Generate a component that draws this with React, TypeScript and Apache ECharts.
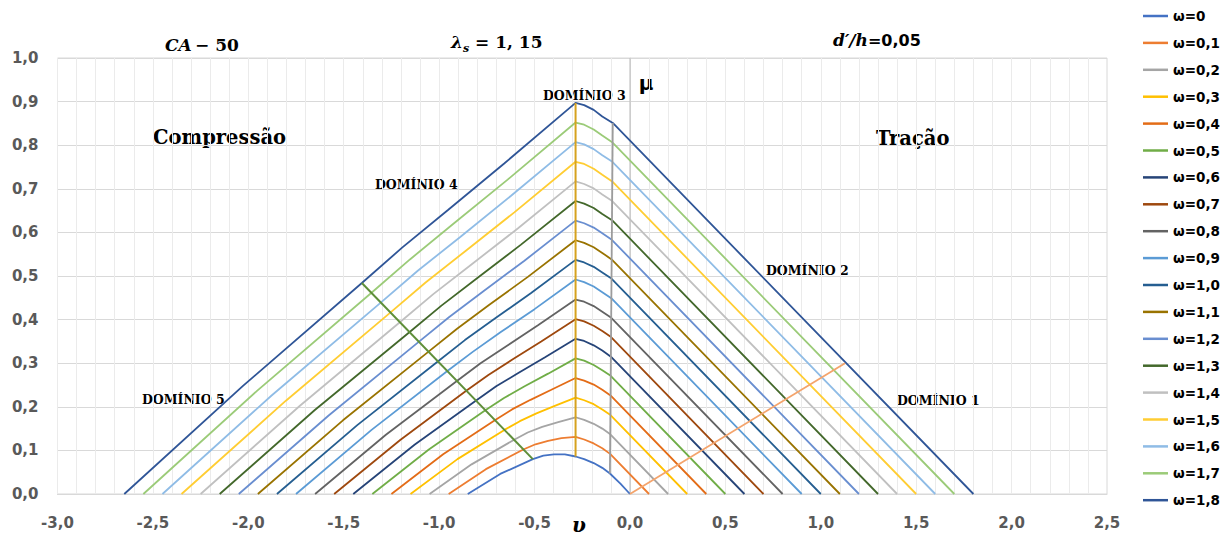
import React, { useEffect, useRef } from "react";
import * as echarts from "echarts";

type Pt = [number, number];

// ---- legend labels & colours ----
const omegaLabels = [
  "ω=0", "ω=0,1", "ω=0,2", "ω=0,3", "ω=0,4", "ω=0,5", "ω=0,6", "ω=0,7", "ω=0,8", "ω=0,9",
  "ω=1,0", "ω=1,1", "ω=1,2", "ω=1,3", "ω=1,4", "ω=1,5", "ω=1,6", "ω=1,7", "ω=1,8",
];
const omegaColors = [
  "#4472C4", "#ED7D31", "#A5A5A5", "#FFC000", "#E36C17", "#70AD47", "#264478", "#9E480E", "#636363", "#5B9BD5",
  "#255E91", "#997300", "#698ED0", "#43682B", "#C0C0C0", "#FFCD33", "#8FBCE6", "#9BCB78", "#2F5597",
];

// ---- curves (ν, μ) ----
const w00: Pt[] = [[-0.85, 0], [-0.68, 0.046], [-0.509, 0.08], [-0.454, 0.088], [-0.398, 0.091], [-0.341, 0.091], [-0.285, 0.086], [-0.24, 0.08], [-0.19, 0.071], [-0.145, 0.06], [-0.105, 0.047], [-0.05, 0.024], [0, 0]];
const w01: Pt[] = [[-0.95, 0], [-0.755, 0.057], [-0.559, 0.102], [-0.495, 0.114], [-0.429, 0.122], [-0.359, 0.128], [-0.285, 0.131], [-0.24, 0.125], [-0.19, 0.116], [-0.145, 0.105], [-0.104, 0.092], [0.1, 0]];
const w02: Pt[] = [[-1.05, 0], [-0.83, 0.068], [-0.609, 0.124], [-0.536, 0.141], [-0.46, 0.154], [-0.376, 0.165], [-0.285, 0.176], [-0.24, 0.17], [-0.19, 0.161], [-0.145, 0.15], [-0.103, 0.137], [0.2, 0]];
const w03: Pt[] = [[-1.15, 0], [-0.904, 0.08], [-0.658, 0.147], [-0.577, 0.167], [-0.49, 0.185], [-0.394, 0.202], [-0.285, 0.221], [-0.24, 0.215], [-0.19, 0.206], [-0.145, 0.194], [-0.102, 0.181], [0.3, 0]];
const w04: Pt[] = [[-1.25, 0], [-0.979, 0.091], [-0.708, 0.169], [-0.618, 0.194], [-0.521, 0.216], [-0.412, 0.239], [-0.285, 0.266], [-0.24, 0.26], [-0.19, 0.251], [-0.145, 0.239], [-0.102, 0.226], [0.4, 0]];
const w05: Pt[] = [[-1.35, 0], [-1.054, 0.102], [-0.758, 0.192], [-0.66, 0.22], [-0.552, 0.247], [-0.429, 0.276], [-0.285, 0.311], [-0.24, 0.306], [-0.19, 0.296], [-0.145, 0.284], [-0.101, 0.271], [0.5, 0]];
const w06: Pt[] = [[-1.45, 0], [-1.129, 0.113], [-0.808, 0.214], [-0.701, 0.247], [-0.583, 0.278], [-0.447, 0.313], [-0.285, 0.356], [-0.24, 0.351], [-0.19, 0.341], [-0.145, 0.329], [-0.1, 0.315], [0.6, 0]];
const w07: Pt[] = [[-1.55, 0], [-1.204, 0.124], [-0.858, 0.237], [-0.742, 0.273], [-0.614, 0.309], [-0.465, 0.35], [-0.285, 0.401], [-0.24, 0.396], [-0.19, 0.386], [-0.145, 0.374], [-0.099, 0.36], [0.7, 0]];
const w08: Pt[] = [[-1.65, 0], [-1.279, 0.136], [-0.907, 0.259], [-0.783, 0.3], [-0.644, 0.34], [-0.482, 0.387], [-0.285, 0.446], [-0.24, 0.441], [-0.19, 0.431], [-0.145, 0.418], [-0.098, 0.404], [0.8, 0]];
const w09: Pt[] = [[-1.75, 0], [-1.354, 0.147], [-0.957, 0.282], [-0.824, 0.326], [-0.675, 0.372], [-0.5, 0.424], [-0.285, 0.492], [-0.24, 0.486], [-0.19, 0.476], [-0.145, 0.463], [-0.098, 0.449], [0.9, 0]];
const w10: Pt[] = [[-1.85, 0], [-1.429, 0.158], [-1.007, 0.304], [-0.865, 0.353], [-0.706, 0.403], [-0.518, 0.461], [-0.285, 0.537], [-0.24, 0.531], [-0.19, 0.521], [-0.145, 0.508], [-0.097, 0.494], [1.0, 0]];
const w11: Pt[] = [[-1.95, 0], [-1.504, 0.169], [-1.057, 0.326], [-0.906, 0.379], [-0.737, 0.434], [-0.535, 0.498], [-0.285, 0.582], [-0.24, 0.576], [-0.19, 0.566], [-0.145, 0.553], [-0.096, 0.538], [1.1, 0]];
const w12: Pt[] = [[-2.05, 0], [-1.579, 0.18], [-1.107, 0.349], [-0.947, 0.406], [-0.768, 0.465], [-0.553, 0.535], [-0.285, 0.627], [-0.24, 0.621], [-0.19, 0.611], [-0.145, 0.598], [-0.095, 0.583], [1.2, 0]];
const w13: Pt[] = [[-2.15, 0], [-1.653, 0.192], [-1.156, 0.371], [-0.988, 0.432], [-0.798, 0.496], [-0.571, 0.572], [-0.285, 0.672], [-0.24, 0.666], [-0.19, 0.656], [-0.145, 0.642], [-0.094, 0.628], [1.3, 0]];
const w14: Pt[] = [[-2.25, 0], [-1.728, 0.203], [-1.206, 0.394], [-1.029, 0.459], [-0.829, 0.527], [-0.588, 0.609], [-0.285, 0.717], [-0.24, 0.711], [-0.19, 0.701], [-0.145, 0.687], [-0.093, 0.672], [1.4, 0]];
const w15: Pt[] = [[-2.35, 0], [-1.803, 0.214], [-1.256, 0.416], [-1.071, 0.485], [-0.86, 0.558], [-0.606, 0.646], [-0.285, 0.762], [-0.24, 0.757], [-0.19, 0.746], [-0.145, 0.732], [-0.093, 0.717], [1.5, 0]];
const w16: Pt[] = [[-2.45, 0], [-1.878, 0.226], [-1.306, 0.439], [-1.112, 0.512], [-0.891, 0.589], [-0.623, 0.684], [-0.285, 0.807], [-0.24, 0.802], [-0.19, 0.791], [-0.145, 0.777], [-0.092, 0.762], [1.6, 0]];
const w17: Pt[] = [[-2.55, 0], [-1.953, 0.237], [-1.356, 0.461], [-1.153, 0.538], [-0.922, 0.621], [-0.641, 0.721], [-0.285, 0.852], [-0.24, 0.847], [-0.19, 0.836], [-0.145, 0.822], [-0.091, 0.806], [1.7, 0]];
const w18: Pt[] = [[-2.65, 0], [-2.028, 0.248], [-1.405, 0.484], [-1.194, 0.565], [-0.952, 0.652], [-0.659, 0.758], [-0.285, 0.897], [-0.24, 0.892], [-0.19, 0.881], [-0.145, 0.866], [-0.09, 0.851], [1.8, 0]];
const curves: Pt[][] = [w00, w01, w02, w03, w04, w05, w06, w07, w08, w09, w10, w11, w12, w13, w14, w15, w16, w17, w18];

// ---- domain boundary lines and the μ axis at ν = 0 ----
const domain12: Pt[] = [[0, 0], [1.127, 0.3]];
const domain23: Pt[] = [[-0.105, 0.047], [-0.09, 0.851]];
const domain34: Pt[] = [[-0.285, 0.086], [-0.285, 0.897]];
const domain45: Pt[] = [[-0.509, 0.08], [-1.405, 0.484]];
const zeroAxis: Pt[] = [[0, 0], [0, 1]];

const fmt = (v: number) => v.toFixed(1).replace(".", ",");

export default function App() {
  const ref = useRef<HTMLDivElement>(null);
  useEffect(() => {
    document.body.style.margin = "0";
    if (!ref.current) return;
    const chart = echarts.init(ref.current, undefined, { renderer: "svg" });

    const series: any[] = [];
    series.push({
      name: "axis0", type: "line", data: zeroAxis, symbol: "none", silent: true,
      lineStyle: { color: "#BFBFBF", width: 1 }, z: 1,
    });
    curves.forEach((c, i) => {
      series.push({
        name: omegaLabels[i], type: "line", data: c, symbol: "none", showSymbol: false,
        silent: true, lineStyle: { color: omegaColors[i], width: 1.8 }, itemStyle: { color: omegaColors[i] }, z: 2,
      });
    });
    const bounds: [Pt[], string, number][] = [
      [domain12, "#F4A46C", 1.8],
      [domain23, "#9C9C9C", 1.8],
      [domain34, "#D6A21E", 2],
      [domain45, "#5F8F3A", 2],
    ];
    bounds.forEach(([d, col, w], i) => {
      series.push({
        name: "d" + i, type: "line", data: d, symbol: "none", silent: true,
        lineStyle: { color: col, width: w }, z: 3,
      });
    });

    const serifB = { fontFamily: "DejaVu Serif", fontWeight: "bold", fill: "#000" };
    const domLabel = (t: string, x: number, y: number) => ({
      type: "text", x, y, silent: true,
      style: { text: t, ...serifB, fontSize: 12.5, verticalAlign: "middle", align: "left" },
    });

    chart.setOption({
      animation: false,
      grid: { left: 57.5, right: 114, top: 58, bottom: 42, show: true, borderColor: "#D9D9D9", borderWidth: 1, containLabel: false },
      xAxis: {
        type: "value", min: -3, max: 2.5, interval: 0.5,
        axisLine: { show: true, onZero: false, lineStyle: { color: "#D9D9D9" } },
        axisTick: { show: false },
        axisLabel: { formatter: fmt, fontFamily: "DejaVu Sans", fontWeight: "bold", fontSize: 15, color: "#595959", margin: 21 },
        splitLine: { show: true, lineStyle: { color: "#EBEBEB", width: 1 } },
        minorTick: { show: false, splitNumber: 5 },
        minorSplitLine: { show: true, lineStyle: { color: "#EBEBEB", width: 1 } },
      },
      yAxis: {
        type: "value", min: 0, max: 1, interval: 0.1,
        axisLine: { show: true, lineStyle: { color: "#D9D9D9" } },
        axisTick: { show: false },
        axisLabel: { formatter: fmt, fontFamily: "DejaVu Sans", fontWeight: "bold", fontSize: 15, color: "#595959", margin: 19 },
        splitLine: { show: true, lineStyle: { color: "#D9D9D9", width: 1 } },
      },
      legend: {
        data: omegaLabels, orient: "vertical", left: 1138, top: 2.5,
        icon: "rect", itemWidth: 25, itemHeight: 2.5, itemGap: 9.9,
        textStyle: { fontFamily: "DejaVu Sans", fontWeight: "bold", fontSize: 13.5, color: "#000", lineHeight: 17 },
      },
      series,
      graphic: [
        {
          type: "text", x: 165, y: 45, silent: true,
          style: {
            text: "{i|CA} {b|− 50}", verticalAlign: "middle", align: "left",
            rich: {
              i: { fontFamily: "DejaVu Serif", fontStyle: "italic", fontWeight: "bold", fontSize: 17, color: "#000" },
              b: { fontFamily: "DejaVu Serif", fontWeight: "bold", fontSize: 17, color: "#000" },
            },
          },
        },
        {
          type: "text", x: 451, y: 42, silent: true,
          style: {
            text: "{l|λ}{s|s}{b| = 1, 15}", verticalAlign: "middle", align: "left",
            rich: {
              l: { fontFamily: "DejaVu Serif", fontStyle: "italic", fontWeight: "bold", fontSize: 17, lineHeight: 24, verticalAlign: "middle", color: "#000" },
              s: { fontFamily: "DejaVu Serif", fontStyle: "italic", fontWeight: "bold", fontSize: 11, lineHeight: 24, verticalAlign: "bottom", color: "#000" },
              b: { fontFamily: "DejaVu Serif", fontWeight: "bold", fontSize: 17, lineHeight: 24, verticalAlign: "middle", color: "#000" },
            },
          },
        },
        {
          type: "text", x: 833, y: 40, silent: true,
          style: {
            text: "{i|d′/h}{b|=0,05}", verticalAlign: "middle", align: "left",
            rich: {
              i: { fontFamily: "DejaVu Serif", fontStyle: "italic", fontWeight: "bold", fontSize: 17, color: "#000" },
              b: { fontFamily: "DejaVu Sans", fontWeight: "bold", fontSize: 16, color: "#000" },
            },
          },
        },
        { type: "text", x: 153, y: 137, silent: true, style: { text: "Compressão", ...serifB, fontSize: 19.5, verticalAlign: "middle", align: "left" } },
        { type: "text", x: 876, y: 138, silent: true, style: { text: "Tração", ...serifB, fontSize: 19.5, verticalAlign: "middle", align: "left" } },
        { type: "text", x: 646, y: 83, silent: true, style: { text: "μ", fontFamily: "DejaVu Sans", fontWeight: "bold", fontSize: 20, fill: "#000", verticalAlign: "middle", align: "center" } },
        { type: "text", x: 579, y: 525, silent: true, style: { text: "υ", fontFamily: "DejaVu Serif", fontStyle: "italic", fontWeight: "bold", fontSize: 20, fill: "#000", verticalAlign: "middle", align: "center" } },
        domLabel("DOMÍNIO 3", 543, 95),
        domLabel("DOMÍNIO 4", 375, 184),
        domLabel("DOMÍNIO 2", 766, 270),
        domLabel("DOMÍNIO 1", 897, 400),
        domLabel("DOMÍNIO 5", 142, 399),
      ],
    });
    return () => chart.dispose();
  }, []);
  return <div ref={ref} style={{ width: 1221, height: 536 }} />;
}
